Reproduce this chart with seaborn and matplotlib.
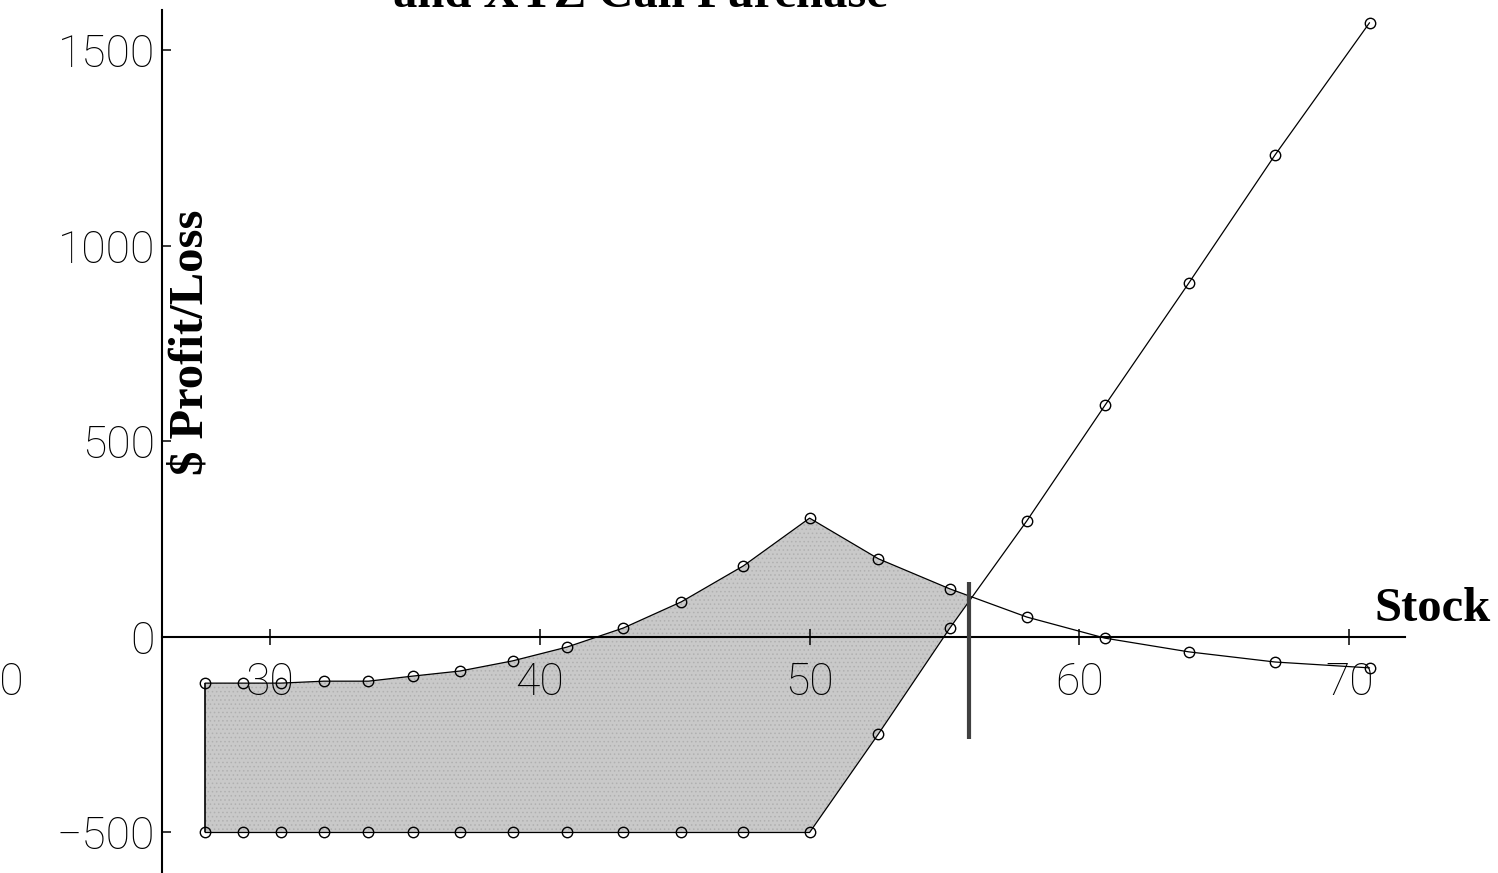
import numpy as np
import pandas as pd
import matplotlib
matplotlib.use("Agg")
import matplotlib.pyplot as plt
import seaborn as sns

sns.set_style("white")
plt.rcParams["font.family"] = ["DejaVu Sans"]
plt.rcParams["hatch.linewidth"] = 0.6

# ---- data ----
stock = [27.6, 29.0, 30.4, 32.0, 33.65, 35.3, 37.05, 39.0, 41.0, 43.1,
         45.25, 47.55, 50.0, 52.55, 55.2, 58.05, 60.95, 64.05, 67.25, 70.75]
call_pl = [-500, -500, -500, -500, -500, -500, -500, -500, -500, -500,
           -500, -500, -500, -248, 23, 297, 593, 905, 1233, 1571]
combo_pl = [-118, -118, -118, -113, -113, -100, -87, -61, -26, 23,
            90, 182, 304, 200, 123, 51, -3, -38, -64, -79]
break_even = 55.9
break_even_span = [-262, 141]
x_ticks = [20, 30, 40, 50, 60, 70]
y_ticks = [-500, 0, 500, 1000, 1500]
title_text = "and XYZ Call Purchase"
x_label = "Stock"
y_label = "$ Profit/Loss"

df = pd.DataFrame({"stock": stock, "call": call_pl, "combo": combo_pl})

fig = plt.figure(figsize=(14.98, 8.73), dpi=100)
ax = fig.add_axes([0, 0, 1, 1])
ax.set_axisbelow(False)

# shaded region between the two curves
ax.fill_between(df["stock"], df["call"], df["combo"],
                where=df["combo"] >= df["call"], interpolate=True,
                facecolor="#c9c9c9", edgecolor="#b0b0b0", hatch="....",
                linewidth=0, zorder=1)
ax.vlines(stock[0], call_pl[0], combo_pl[0], color="black", lw=1.2, zorder=2)

for col in ["call", "combo"]:
    sns.lineplot(data=df, x="stock", y=col, ax=ax, color="black", lw=0.9,
                 marker="o", markersize=7.5, markerfacecolor="none",
                 markeredgecolor="black", markeredgewidth=1.0, sort=False,
                 zorder=3)

ax.vlines(break_even, break_even_span[0], break_even_span[1],
          color="#404040", lw=3, zorder=4)

ax.set_xlim(20.13, 75.51)
ax.set_ylim(-603.6, 1629.1)

for s in ["top", "right"]:
    ax.spines[s].set_visible(False)
ax.spines["left"].set_position(("data", 26))
ax.spines["bottom"].set_position(("data", 0))
ax.spines["left"].set_bounds(-700, 1604)
ax.spines["bottom"].set_bounds(26, 72.07)
for s in ["left", "bottom"]:
    ax.spines[s].set_color("black")
    ax.spines[s].set_linewidth(1.5)
    ax.spines[s].set_zorder(2.5)

ax.set_xticks(x_ticks)
ax.set_xticklabels([str(t) for t in x_ticks])
ax.set_yticks(y_ticks)
ax.set_yticklabels([str(t).replace("-", "\u2212") for t in y_ticks])
ax.tick_params(axis="x", bottom=True, direction="inout", length=11.5,
               width=1.1, color="black", pad=12)
ax.tick_params(axis="y", left=True, direction="in", length=6.5, width=1.1,
               color="black", pad=5)
# the tick mark at 20 lies left of the vertical axis: no mark there
ax.xaxis.get_major_ticks()[0].tick1line.set_visible(False)
for lab in ax.get_xticklabels() + ax.get_yticklabels():
    lab.set_family("Roboto")
    lab.set_fontweight("light")
    lab.set_fontsize(32)
    lab.set_color("black")

serif = dict(family="Liberation Serif", fontweight="bold", fontsize=35,
             color="black")
ax.set_xlabel(x_label, va="baseline", ha="center", **serif)
ax.xaxis.set_label_coords(1433 / 1498, 1 - 621 / 873)
ax.set_ylabel(y_label, va="center", ha="center", **serif)
ax.yaxis.set_label_coords(191 / 1498, 1 - 342 / 873)

fig.text(640 / 1498, 1 - 7 / 873, title_text, ha="center", va="baseline",
         **serif)

fig.savefig("out.png", dpi=100)
